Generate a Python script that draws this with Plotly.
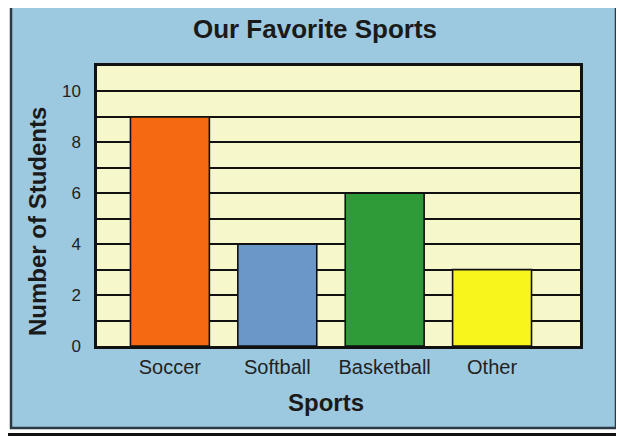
import plotly.graph_objects as go

sports = ["Soccer", "Softball", "Basketball", "Other"]
students = [9, 4, 6, 3]
bar_colors = ["#f46a12", "#6a97c8", "#2f9b38", "#f8f51c"]
y_tick_vals = [0, 1, 2, 3, 4, 5, 6, 7, 8, 9, 10]
y_tick_text = ["0", "", "2", "", "4", "", "6", "", "8", "", "10"]

# page is drawn with an 8px body margin; lay out in page pixels
OFF = 8
PAGE_W, PAGE_H = 624, 436
PL, PR, PT, PB = 97, 580, 66, 346  # plot area in page pixels
W, H = PAGE_W - OFF, PAGE_H - OFF
L, R, T, B = PL - OFF, W - (PR - OFF), PT - OFF, H - (PB - OFF)


def px(x):
    return (x - PL) / (PR - PL)


def py(y):
    return (PB - y) / (PB - PT)


fig = go.Figure(
    go.Bar(
        x=sports,
        y=students,
        marker=dict(color=bar_colors, line=dict(color="#111111", width=1.6)),
        width=0.735,
    )
)

font = "Liberation Sans, Arial, sans-serif"
dark = "#1a1a1a"

fig.update_layout(
    width=W,
    height=H,
    margin=dict(l=L, r=R, t=T, b=B),
    paper_bgcolor="#ffffff",
    plot_bgcolor="#f7f7cc",
    showlegend=False,
    title=dict(
        text="<b>Our Favorite Sports</b>",
        xref="paper",
        x=px(315),
        xanchor="center",
        yref="container",
        y=1 - (29 - OFF) / H,
        yanchor="middle",
        font=dict(family=font, size=26, color=dark),
    ),
    font=dict(family=font, color="#222222"),
    shapes=[
        dict(type="rect", xref="paper", yref="paper", layer="below",
             x0=px(11), x1=px(616), y0=py(428), y1=py(-3),
             fillcolor="#9dc9e0", line=dict(color="#2b3a44", width=2.5)),
        dict(type="rect", xref="paper", yref="paper", layer="below",
             x0=px(0), x1=px(640), y0=py(433), y1=py(450),
             fillcolor="#111111", line=dict(width=0)),
        dict(type="rect", xref="paper", yref="paper", layer="below",
             x0=0, x1=1, y0=0, y1=1,
             fillcolor="#f7f7cc", line=dict(width=0)),
    ],
    annotations=[
        dict(text="<b>Sports</b>", xref="paper", yref="paper",
             x=px(326), y=py(402), xanchor="center", yanchor="middle",
             showarrow=False, font=dict(family=font, size=24, color=dark)),
        dict(text="<b>Number of Students</b>", xref="paper", yref="paper",
             x=px(37), y=py(222), xanchor="center", yanchor="middle",
             textangle=-90, showarrow=False,
             font=dict(family=font, size=24, color=dark)),
    ],
)

fig.update_xaxes(
    range=[-0.679, 3.819],
    showgrid=False,
    showline=True,
    mirror=True,
    linecolor="#111111",
    linewidth=2.5,
    ticks="",
    tickfont=dict(size=20, color="#222222"),
    ticklabelstandoff=1,
)

fig.update_yaxes(
    range=[0, 11],
    tickvals=y_tick_vals,
    ticktext=y_tick_text,
    showgrid=True,
    gridcolor="#111111",
    gridwidth=2,
    zeroline=False,
    showline=True,
    mirror=True,
    linecolor="#111111",
    linewidth=2.5,
    ticks="",
    tickfont=dict(size=17, color="#222222"),
    ticklabelstandoff=10,
)

fig.write_html("out.html")
